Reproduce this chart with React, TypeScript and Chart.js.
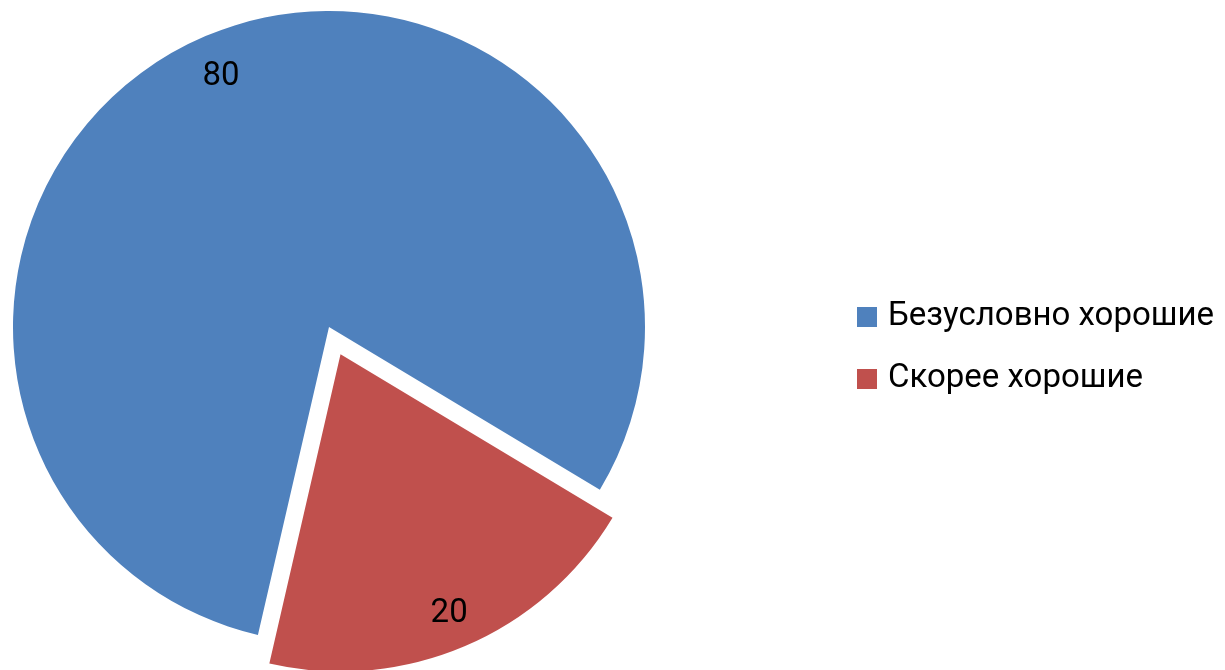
import React, { useEffect, useRef } from "react";
import { Chart, registerables } from "chart.js";

Chart.register(...registerables);

// ---- data ----
const categories = ["Безусловно хорошие", "Скорее хорошие"];
const values = [80, 20];
const colors = ["#4F81BD", "#C0504D"];
const explode = [0, 118];

const FONT = "Roboto, 'Noto Sans', 'DejaVu Sans', sans-serif";
const FONT_SIZE = 33;

// actual translation that Chart.js applies to an arc for a given offset option
function arcShift(offset: number, circumference: number) {
  const base = offset / 4;
  const fix = 1 - Math.sin(Math.min(Math.PI, circumference || 0));
  return base + base * fix;
}

const sliceLabels = {
  id: "sliceLabels",
  afterDatasetsDraw(chart: any) {
    const ctx = chart.ctx;
    const meta = chart.getDatasetMeta(0);
    const data = chart.data.datasets[0].data as number[];
    ctx.save();
    ctx.font = `${FONT_SIZE}px ${FONT}`;
    ctx.fillStyle = "#000000";
    ctx.textAlign = "center";
    ctx.textBaseline = "middle";
    meta.data.forEach((arc: any, i: number) => {
      const p = arc.getProps(["x", "y", "startAngle", "endAngle", "outerRadius", "circumference"], true);
      const mid = (p.startAngle + p.endAngle) / 2;
      const shift = arcShift(arc.options.offset || 0, p.circumference);
      const d = shift + p.outerRadius * 0.875;
      ctx.fillText(String(data[i]), p.x + Math.cos(mid) * d, p.y + Math.sin(mid) * d + 4);
    });
    ctx.restore();
  },
};

const sideLegend = {
  id: "sideLegend",
  afterDraw(chart: any) {
    const ctx = chart.ctx;
    const labels = chart.data.labels as string[];
    const bg = chart.data.datasets[0].backgroundColor as string[];
    const left = 857;
    const firstRow = 317;
    const rowGap = 62;
    const box = 20;
    ctx.save();
    ctx.font = `${FONT_SIZE}px ${FONT}`;
    ctx.textAlign = "left";
    ctx.textBaseline = "middle";
    labels.forEach((lab, i) => {
      const cy = firstRow + i * rowGap;
      ctx.fillStyle = bg[i];
      ctx.fillRect(left, cy - box / 2, box, box);
      ctx.fillStyle = "#000000";
      ctx.fillText(lab, left + 31, cy);
    });
    ctx.restore();
  },
};

export default function App() {
  const ref = useRef<HTMLCanvasElement>(null);
  useEffect(() => {
    if (!ref.current) return;
    const chart = new Chart(ref.current, {
      type: "pie",
      data: {
        labels: categories,
        datasets: [
          {
            data: values,
            backgroundColor: colors,
            borderWidth: 0,
            offset: explode,
            hoverOffset: 0,
            clip: false,
          } as any,
        ],
      },
      options: {
        responsive: false,
        animation: false,
        events: [],
        rotation: 193,
        radius: 316,
        layout: { padding: { left: 0, top: 0, right: 567, bottom: 16 } },
        plugins: {
          legend: { display: false },
          tooltip: { enabled: false },
        },
      } as any,
      plugins: [sliceLabels, sideLegend],
    });
    return () => chart.destroy();
  }, []);
  return (
    <div style={{ position: "fixed", left: 0, top: 0, width: 1225, height: 670, background: "#ffffff" }}>
      <canvas ref={ref} width={1225} height={670} style={{ display: "block" }} />
    </div>
  );
}
